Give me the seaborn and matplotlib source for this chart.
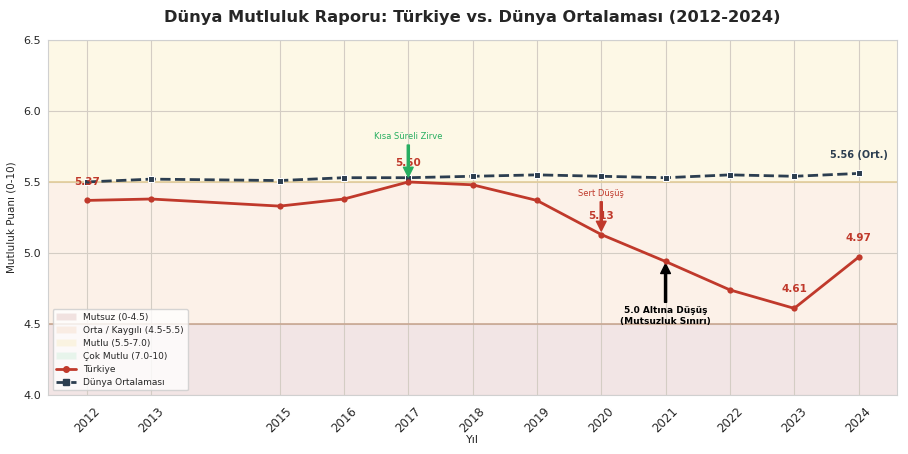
import pandas as pd
import seaborn as sns
import matplotlib.pyplot as plt
from matplotlib.patches import Patch
from matplotlib.lines import Line2D

years = [2012, 2013, 2015, 2016, 2017, 2018, 2019, 2020, 2021, 2022, 2023, 2024]
turkiye = [5.37, 5.38, 5.33, 5.38, 5.50, 5.48, 5.37, 5.13, 4.94, 4.74, 4.61, 4.97]
dunya = [5.50, 5.52, 5.51, 5.53, 5.53, 5.54, 5.55, 5.54, 5.53, 5.55, 5.54, 5.56]

band_labels = ['Mutsuz (0-4.5)', 'Orta / Kaygılı (4.5-5.5)', 'Mutlu (5.5-7.0)', 'Çok Mutlu (7.0-10)']
band_limits = [(0, 4.5), (4.5, 5.5), (5.5, 7.0), (7.0, 10)]
band_colors = ['#800000', '#e67e22', '#f1c40f', '#2ecc71']

label_years = [2012, 2017, 2020, 2023, 2024]

RED = '#c0392b'
DARK = '#2c3e50'

df = pd.DataFrame({'Yıl': years, 'Türkiye': turkiye, 'Dünya': dunya})

sns.set_theme(style='whitegrid')
fig, ax = plt.subplots(figsize=(9.08, 4.54), dpi=100)
fig.subplots_adjust(left=0.053, right=0.988, top=0.912, bottom=0.130)

# mutluluk bantlari
for (lo, hi), c in zip(band_limits, band_colors):
    ax.axhspan(lo, hi, color=c, alpha=0.1, lw=0, zorder=0)
ax.axhline(5.5, color='#e3cd9a', lw=1.2, zorder=1)
ax.axhline(4.5, color='#c9a792', lw=1.2, zorder=1)

sns.lineplot(data=df, x='Yıl', y='Dünya', ax=ax, color=DARK, lw=2,
             linestyle='--', marker='s', markersize=5, zorder=3)
sns.lineplot(data=df, x='Yıl', y='Türkiye', ax=ax, color=RED, lw=2,
             marker='o', markersize=4.5, markeredgewidth=0, zorder=4)

# veri etiketleri
for y, v in zip(years, turkiye):
    if y in label_years:
        ax.annotate(f'{v:.2f}', (y, v), xytext=(0, 10), textcoords='offset points',
                    ha='center', va='bottom', fontsize=7.5, fontweight='bold', color=RED)
ax.annotate(f'{dunya[-1]:.2f} (Ort.)', (years[-1], dunya[-1]), xytext=(0, 10),
            textcoords='offset points', ha='center', va='bottom', fontsize=7,
            fontweight='bold', color=DARK)

ax.annotate('Kısa Süreli Zirve', xy=(2017, 5.53), xytext=(2017, 5.82),
            ha='center', va='center', fontsize=6, color='#27ae60',
            arrowprops=dict(facecolor='#27ae60', edgecolor='#27ae60', width=1.5,
                            headwidth=7, headlength=7, shrink=0.02))
ax.annotate('Sert Düşüş', xy=(2020, 5.15), xytext=(2020, 5.42),
            ha='center', va='center', fontsize=6, color=RED,
            arrowprops=dict(facecolor=RED, edgecolor=RED, width=1.5,
                            headwidth=7, headlength=7, shrink=0.02))
ax.annotate('5.0 Altına Düşüş\n(Mutsuzluk Sınırı)', xy=(2021, 4.93), xytext=(2021, 4.555),
            ha='center', va='center', fontsize=6.5, fontweight='bold', color='black',
            arrowprops=dict(facecolor='black', edgecolor='black', width=1.5,
                            headwidth=7, headlength=7, shrink=0.02))

ax.set_xticks(years)
ax.set_xticklabels([str(y) for y in years], rotation=45, fontsize=8.5)
ax.set_xlim(2011.4, 2024.6)
ax.set_ylim(4.0, 6.5)
ax.set_yticks([4.0, 4.5, 5.0, 5.5, 6.0, 6.5])
ax.tick_params(axis='x', pad=1)
ax.tick_params(axis='y', labelsize=8, length=0, pad=5)
ax.set_xlabel('Yıl', fontsize=8, labelpad=0)
ax.set_ylabel('Mutluluk Puanı (0-10)', fontsize=7.5, labelpad=5)
ax.set_title('Dünya Mutluluk Raporu: Türkiye vs. Dünya Ortalaması (2012-2024)',
             fontsize=11.7, fontweight='bold', pad=13)
ax.grid(True, lw=0.8, color='#d4cdc4')
for s in ax.spines.values():
    s.set_linewidth(0.8)
    s.set_color('#d0d0d0')

handles = [Patch(facecolor=c, alpha=0.1, label=l) for c, l in zip(band_colors, band_labels)]
handles += [Line2D([], [], color=RED, lw=2, marker='o', markersize=4, label='Türkiye'),
            Line2D([], [], color=DARK, lw=2, ls='--', marker='s', markersize=4,
                   label='Dünya Ortalaması')]
ax.legend(handles=handles, loc='lower left', fontsize=6.5, frameon=True,
          handlelength=2.2, labelspacing=0.45)

plt.savefig('out.png', dpi=100)
